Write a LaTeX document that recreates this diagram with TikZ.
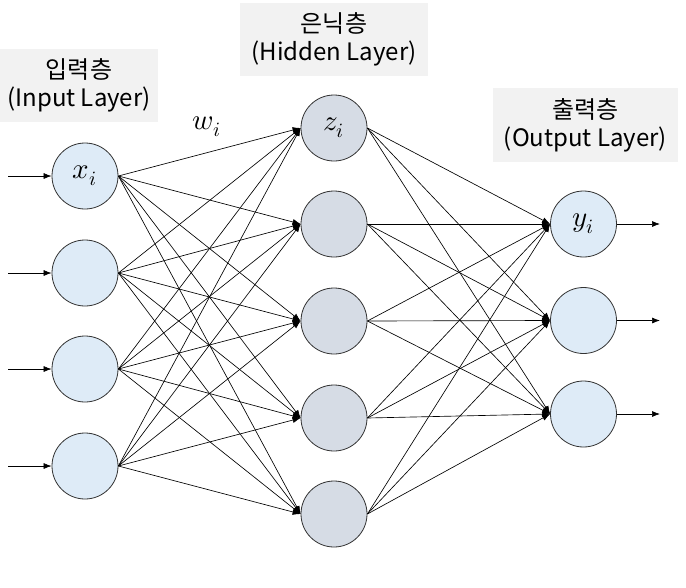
\documentclass[tikz,border=0pt]{standalone}
\usepackage{fontspec}
\usepackage{unicode-math}
\newfontfamily\krfont{Noto Sans CJK KR}
\usetikzlibrary{arrows.meta}
\definecolor{inblue}{HTML}{DEEBF7}
\definecolor{hidgray}{HTML}{D6DCE5}
\definecolor{boxgray}{HTML}{F2F2F2}
\tikzset{
  neuron/.style={circle,draw=black!80,line width=0.8pt,minimum size=66pt,inner sep=0pt},
  layerlabel/.style={fill=boxgray,align=center,inner sep=0pt,font=\krfont\fontsize{24}{28}\selectfont},
  mathlabel/.style={font=\fontsize{29}{30}\selectfont},
  link/.style={line width=0.65pt,-{Latex[length=8pt,width=6pt]}}
}
\begin{document}
\begin{tikzpicture}[x=1pt,y=-1pt]
\useasboundingbox (0,0) rectangle (686,587);
% layer titles
\node[layerlabel,minimum width=158pt,minimum height=73pt] (intitle) at (79,85.5) {입력층\\(Input Layer)};
\node[layerlabel,minimum width=188pt,minimum height=73pt] (hidtitle) at (334,39.5) {은닉층\\(Hidden Layer)};
\node[layerlabel,minimum width=185pt,minimum height=74pt] (outtitle) at (585.5,125) {출력층\\(Output Layer)};
% neurons
\foreach \i/\y in {1/176,2/273,3/369,4/466}
  \node[neuron,fill=inblue] (in\i) at (85,\y) {};
\foreach \i/\y in {1/128,2/224,3/321,4/418,5/514}
  \node[neuron,fill=hidgray] (hid\i) at (334,\y) {};
\foreach \i/\y in {1/224,2/320.5,3/414}
  \node[neuron,fill=inblue] (out\i) at (583.5,\y) {};
\node[mathlabel] (xlab) at (in1) {$x_i$};
\node[mathlabel] (zlab) at (hid1) {$z_i$};
\node[mathlabel] (ylab) at (out1) {$y_i$};
\node[mathlabel] (wlab) at (207,127) {$w_i$};
% weights
\foreach \i in {1,...,4}
  \foreach \j in {1,...,5}
    \draw[link] (in\i.east) -- (hid\j.west);
\foreach \j in {1,...,5}
  \foreach \k in {1,2,3}
    \draw[link] (hid\j.east) -- (out\k.west);
% inputs and outputs
\foreach \i in {1,...,4} {
  \coordinate (src\i) at (8,0 |- in\i);
  \draw[link] (src\i) -- (in\i.west);
}
\foreach \k in {1,2,3} {
  \coordinate (sink\k) at (660,0 |- out\k);
  \draw[link] (out\k.east) -- (sink\k);
}
\end{tikzpicture}
\end{document}
